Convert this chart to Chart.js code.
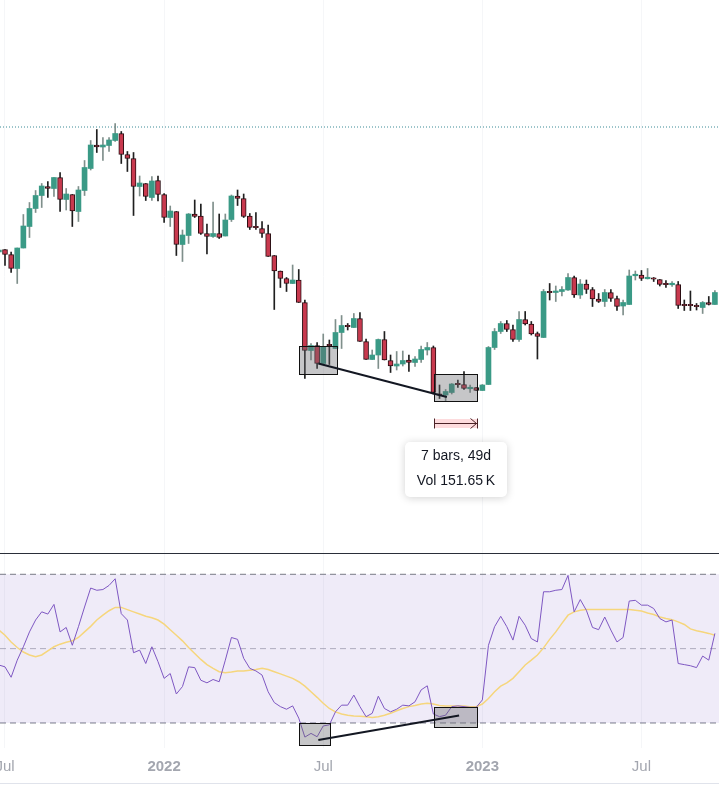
<!DOCTYPE html>
<html>
<head>
<meta charset="utf-8">
<script src="https://cdn.jsdelivr.net/npm/chart.js@4.4.0/dist/chart.umd.min.js"></script>
<style>
  html, body { margin: 0; padding: 0; background: #ffffff; }
  #wrap { position: relative; width: 719px; height: 793px; overflow: hidden; font-family: "Liberation Sans", Arial, sans-serif; }
  #priceBox { position: absolute; left: 0; top: 0; width: 719px; height: 553px; }
  #sep { position: absolute; left: 0; top: 553px; width: 719px; height: 1px; background: #2a2e39; }
  #rsiBox { position: absolute; left: 0; top: 554px; width: 719px; height: 239px; }
  #bottomLine { position: absolute; left: 0; top: 783px; width: 719px; height: 1px; background: #e0e3eb; }
</style>
</head>
<body>
<div id="wrap">
  <div id="priceBox"><canvas id="priceChart"></canvas></div>
  <div id="sep"></div>
  <div id="rsiBox"><canvas id="rsiChart"></canvas></div>
  <div id="bottomLine"></div>
</div>
<script>
/* ---------------------------------------------------------
   Data (weekly bars, first bar index = -1)
   --------------------------------------------------------- */
var firstIndex = -1;

var opens = [60.2, 60.7, 59.7, 56.9, 61.0, 65.3, 68.9, 71.5, 73.3, 72.9, 75.1, 70.7, 71.7, 68.3, 72.5, 76.9, 81.6, 81.2, 81.5, 82.5,
  83.9, 79.7, 78.9, 73.3, 73.9, 71.1, 74.5, 71.7, 67.1, 68.3, 61.7, 63.5, 67.8, 67.4, 63.9, 63.3, 63.9, 63.4, 66.7, 71.4,
  70.9, 67.4, 65.15, 64.9, 63.9, 59.5, 56.4, 54.9, 53.9, 54.6, 50.1, 40.5, 41.5, 37.9, 41.55, 40.9, 44.1, 45.35, 45.1, 46.9,
  42.3, 38.7, 39.6, 42.7, 38.5, 37.4, 37.8, 38.6, 38.1, 38.7, 40.6, 41.1, 31.65, 31.6, 32.1, 33.75, 33.7, 32.85, 33.1, 32.5,
  33.7, 41.1, 44.3, 45.9, 44.7, 42.7, 46.7, 45.8, 43.9, 43.1, 52.15, 52.1, 52.3, 52.6, 55.1, 51.6, 53.8, 52.7, 50.8, 50.3,
  52.1, 50.9, 49.4, 49.7, 55.45, 55.6, 54.85, 54.85, 54.7, 53.75, 53.65, 53.7, 49.55, 49.55, 49.35, 49.1, 50.1, 49.7];

var highs = [60.8, 60.7, 60.2, 61.0, 67.7, 70.1, 72.5, 73.9, 74.3, 75.1, 76.1, 72.9, 71.7, 73.3, 78.5, 82.5, 84.7, 83.1, 83.1, 85.9,
  84.3, 80.3, 80.1, 75.4, 73.9, 75.3, 75.4, 71.9, 69.4, 68.3, 64.6, 67.9, 70.6, 69.8, 65.8, 70.2, 67.8, 67.8, 71.6, 72.6,
  71.8, 67.9, 68.1, 66.3, 65.6, 59.5, 56.4, 55.1, 57.6, 56.7, 50.6, 41.9, 42.1, 43.8, 42.6, 46.7, 47.5, 45.9, 47.9, 48.1,
  42.8, 40.6, 42.8, 44.3, 39.6, 40.3, 40.4, 39.6, 39.3, 41.4, 42.1, 41.4, 33.6, 32.7, 33.9, 34.6, 36.3, 33.6, 33.1, 33.7,
  41.3, 44.9, 46.3, 46.5, 45.6, 48.3, 48.3, 46.3, 44.2, 52.7, 53.9, 53.4, 53.3, 55.9, 55.4, 54.7, 54.6, 53.1, 51.9, 52.7,
  52.7, 51.4, 50.6, 56.6, 56.4, 56.5, 56.9, 55.1, 54.7, 54.5, 54.3, 54.3, 50.6, 52.4, 49.9, 50.3, 51.3, 52.5];

var lows = [60.0, 57.5, 56.1, 53.9, 61.0, 63.1, 68.1, 69.1, 71.1, 71.3, 68.3, 68.6, 65.3, 66.3, 71.5, 76.6, 80.1, 78.5, 80.3, 82.3,
  77.9, 76.3, 67.5, 71.4, 70.5, 70.5, 70.4, 66.1, 65.3, 59.5, 58.3, 61.9, 67.1, 63.7, 59.8, 63.1, 62.9, 63.4, 66.3, 69.5,
  67.1, 64.7, 64.7, 63.1, 59.3, 48.7, 53.1, 52.3, 53.9, 50.1, 34.9, 38.6, 36.9, 37.9, 37.7, 40.9, 40.9, 44.6, 45.1, 42.3,
  38.7, 38.7, 36.9, 38.6, 36.1, 36.6, 37.4, 36.3, 37.3, 38.1, 39.6, 31.8, 30.9, 30.3, 31.8, 33.1, 32.7, 32.1, 32.5, 32.5,
  33.7, 40.7, 43.9, 44.3, 42.3, 42.3, 45.6, 43.6, 38.8, 43.1, 50.6, 50.3, 51.4, 52.5, 51.1, 50.9, 51.9, 49.3, 50.1, 49.3,
  50.3, 48.5, 47.6, 49.7, 54.6, 54.5, 54.8, 54.3, 53.4, 53.1, 53.3, 48.9, 48.5, 48.5, 48.6, 47.9, 49.6, 49.7];

var closes = [60.6, 59.7, 56.9, 61.0, 65.4, 68.9, 71.5, 73.4, 72.9, 75.1, 70.7, 71.8, 68.4, 72.6, 77.1, 81.6, 81.2, 81.6, 82.6, 83.9,
  79.7, 78.9, 73.3, 74.0, 71.3, 74.4, 71.7, 67.1, 68.4, 61.7, 63.6, 67.8, 67.3, 63.9, 63.3, 63.9, 63.1, 66.6, 71.4, 70.9,
  67.3, 65.1, 65.05, 63.9, 59.3, 56.4, 54.9, 53.9, 54.6, 50.1, 40.5, 41.5, 37.9, 41.3, 41.45, 44.1, 45.5, 45.25, 46.9, 42.3,
  38.7, 39.6, 42.7, 38.6, 37.4, 37.8, 38.5, 38.1, 38.8, 40.7, 41.1, 32.1, 31.55, 32.3, 33.8, 33.65, 32.9, 32.95, 32.5, 33.6,
  41.1, 44.3, 45.9, 44.7, 42.7, 46.7, 45.8, 43.8, 43.3, 52.3, 52.05, 52.4, 52.7, 55.1, 51.6, 53.8, 52.7, 50.8, 50.3, 52.1,
  50.9, 49.3, 50.1, 55.4, 55.55, 54.9, 54.95, 54.75, 53.7, 53.65, 53.75, 49.5, 49.45, 49.45, 49.25, 50.1, 49.7, 52.1];

var rsiValues = [45.6, 45.1, 42.3, 46.9, 50.5, 54.5, 57.7, 59.9, 59.3, 61.9, 54.5, 55.7, 50.9, 55.9, 61.2, 66.3, 65.7, 65.9, 67.0, 68.8,
  59.4, 57.7, 48.9, 49.6, 46.0, 50.5, 46.5, 42.0, 43.3, 37.8, 39.8, 45.1, 44.9, 41.5, 40.8, 41.7, 41.1, 46.9, 53.0, 52.5,
  47.4, 44.7, 44.0, 42.9, 38.4, 35.5, 34.4, 33.7, 34.6, 31.3, 26.2, 27.2, 26.3, 29.2, 29.5, 33.0, 34.8, 34.8, 37.5, 34.4,
  31.7, 32.6, 37.2, 33.9, 33.0, 33.7, 34.8, 34.6, 35.7, 38.9, 40.0, 32.4, 31.7, 32.1, 34.4, 34.6, 34.4, 34.2, 34.2, 36.2,
  50.9, 55.9, 58.7, 55.9, 52.3, 58.7, 56.3, 52.7, 51.8, 65.3, 65.3, 65.7, 65.9, 69.7, 59.9, 63.2, 60.3, 55.7, 55.1, 58.5,
  55.0, 51.8, 53.0, 62.8, 63.0, 61.7, 61.7, 60.8, 58.1, 57.2, 57.7, 46.0, 45.7, 45.4, 44.9, 48.0, 46.9, 54.1];

var rsiMaValues = [55.0, 53.6, 51.8, 50.3, 49.1, 48.3, 47.8, 48.3, 49.4, 50.5, 51.2, 51.7, 52.1, 53.0, 54.5, 56.0, 57.7, 59.0, 60.2, 61.1,
  61.1, 60.5, 59.9, 59.3, 58.7, 58.3, 57.7, 56.6, 55.1, 53.6, 52.1, 50.3, 48.7, 47.1, 45.7, 44.7, 43.8, 43.5, 43.7, 44.0,
  44.0, 44.2, 44.4, 44.7, 44.4, 43.8, 43.2, 42.6, 42.0, 41.1, 39.9, 38.4, 36.9, 35.3, 33.9, 33.0, 32.4, 32.1, 31.9, 31.8,
  31.7, 31.5, 31.7, 32.1, 32.6, 33.3, 33.9, 34.4, 34.7, 35.1, 35.3, 35.1, 34.7, 34.6, 34.6, 34.6, 34.6, 34.4, 34.4, 35.1,
  36.6, 38.4, 39.9, 40.8, 42.0, 43.8, 45.6, 46.9, 48.3, 50.2, 52.5, 54.5, 56.8, 59.0, 59.9, 60.3, 60.5, 60.5, 60.5, 60.5,
  60.5, 60.5, 60.5, 60.5, 60.3, 60.1, 59.6, 59.2, 58.5, 58.1, 57.8, 57.2, 56.5, 55.3, 54.8, 54.5, 54.1, 53.6];

var rsiLevels = [70, 50, 30];
var highLevel = 85.2;

var tickIndex = [0, 26, 52, 78, 104];
var tickLabels = ['Jul', '2022', 'Jul', '2023', 'Jul'];

var rangeText = ['7 bars, 49d', 'Vol 151.65\u202FK'];

/* ---------------------------------------------------------
   View window / colours
   --------------------------------------------------------- */
var X_MIN = -0.817, X_MAX = 116.67;
var UP_BODY = '#3a9a86', UP_WICK = '#7f8f8b';
var DOWN_BODY = '#c8394e', DOWN_BORDER = '#2a0d12', DOWN_WICK = '#1f1f1f';

function xOf(k) { return firstIndex + k; }
function isUp(k) { return closes[k] >= opens[k]; }

function timeScale(showLabels) {
  return {
    type: 'linear',
    min: X_MIN,
    max: X_MAX,
    offset: false,
    afterBuildTicks: function (s) {
      s.ticks = tickIndex.map(function (v) { return { value: v }; });
    },
    afterFit: function (s) {
      s.paddingLeft = 0;
      s.paddingRight = 0;
      s.height = showLabels ? 45 : 0;
    },
    grid: { color: '#f5f6f8', drawTicks: false, offset: false },
    border: { display: false },
    ticks: {
      display: showLabels,
      autoSkip: false,
      maxRotation: 0,
      padding: 10,
      color: '#a3a6af',
      font: function (c) {
        var bold = /^\d{4}$/.test(tickLabels[c.index] || '');
        return { family: '"Liberation Sans", Arial, sans-serif', size: 15, weight: bold ? 'bold' : 'normal' };
      },
      callback: function (v, i) { return tickLabels[i]; }
    }
  };
}

/* ---------------------------------------------------------
   Drawings (boxes, trend lines, date range) in data units
   --------------------------------------------------------- */
var drawingsPlugin = {
  id: 'drawings',
  afterDatasetsDraw: function (chart, args, opts) {
    var ctx = chart.ctx;
    var xs = chart.scales.x, ys = chart.scales.y;
    function px(v) { return xs.getPixelForValue(v); }
    function py(v) { return ys.getPixelForValue(v); }
    ctx.save();

    (opts.rects || []).forEach(function (r) {
      var x0 = Math.round(px(r.x0)) + 0.5, x1 = Math.round(px(r.x1)) + 0.5;
      var y0 = Math.round(py(r.y1)) + 0.5, y1 = Math.round(py(r.y0)) + 0.5;
      ctx.fillStyle = 'rgba(105,105,110,0.38)';
      ctx.fillRect(x0, y0, x1 - x0, y1 - y0);
      ctx.strokeStyle = '#111111';
      ctx.lineWidth = 1;
      ctx.strokeRect(x0, y0, x1 - x0, y1 - y0);
    });

    (opts.lines || []).forEach(function (l) {
      ctx.beginPath();
      ctx.moveTo(px(l.x0), py(l.y0));
      ctx.lineTo(px(l.x1), py(l.y1));
      ctx.strokeStyle = '#131722';
      ctx.lineWidth = 2;
      ctx.stroke();
    });

    if (opts.range) {
      var r = opts.range;
      var a = Math.round(px(r.x0)) + 0.5, b = Math.round(px(r.x1)) + 0.5;
      var y = Math.round(py(r.y)) + 0.5;
      ctx.fillStyle = 'rgba(242,54,69,0.18)';
      ctx.fillRect(a, y - 4.5, b - a, 9);
      ctx.strokeStyle = '#4a2226';
      ctx.lineWidth = 1;
      ctx.beginPath();
      ctx.moveTo(a, y - 5); ctx.lineTo(a, y + 5);
      ctx.moveTo(a, y); ctx.lineTo(b, y);
      ctx.moveTo(b, y - 5); ctx.lineTo(b, y + 5);
      ctx.moveTo(b - 7, y - 5); ctx.lineTo(b - 1, y); ctx.lineTo(b - 7, y + 5);
      ctx.stroke();

      var cx = (a + b) / 2, w = 102, h = 55, top = y + 18.5, left = cx - w / 2, rad = 5;
      ctx.save();
      ctx.shadowColor = 'rgba(0,0,0,0.18)';
      ctx.shadowBlur = 8;
      ctx.shadowOffsetY = 1;
      ctx.fillStyle = '#ffffff';
      ctx.beginPath();
      ctx.roundRect(left, top, w, h, rad);
      ctx.fill();
      ctx.restore();
      ctx.fillStyle = '#131722';
      ctx.font = '14px "Liberation Sans", Arial, sans-serif';
      ctx.textAlign = 'center';
      ctx.textBaseline = 'middle';
      ctx.fillText(r.text[0], cx, top + 14.5);
      ctx.fillText(r.text[1], cx, top + 39.5);
    }
    ctx.restore();
  }
};

/* ---------------------------------------------------------
   Price chart (candles as floating bars)
   --------------------------------------------------------- */
function initPriceChart() {
  var bodies = [], wicks = [], bodyFill = [], bodyBorder = [], bodyBorderW = [], wickColor = [];
  for (var k = 0; k < opens.length; k++) {
    var up = isUp(k);
    bodies.push({ x: xOf(k), y: [opens[k], closes[k]] });
    wicks.push({ x: xOf(k), y: [lows[k], highs[k]] });
    bodyFill.push(up ? UP_BODY : DOWN_BODY);
    bodyBorder.push(up ? UP_BODY : DOWN_BORDER);
    bodyBorderW.push(up ? 0 : 1);
    wickColor.push(up ? UP_WICK : DOWN_WICK);
  }

  new Chart(document.getElementById('priceChart'), {
    type: 'bar',
    data: {
      datasets: [{
        label: 'Body',
        data: bodies,
        backgroundColor: bodyFill,
        borderColor: bodyBorder,
        borderWidth: bodyBorderW,
        borderSkipped: false,
        barThickness: 5,
        minBarLength: 1.5,
        grouped: false,
        order: 0
      }, {
        label: 'Wick',
        data: wicks,
        backgroundColor: wickColor,
        borderWidth: 0,
        barThickness: 1,
        minBarLength: 1,
        grouped: false,
        order: 1
      }, {
        type: 'line',
        label: 'High',
        data: [{ x: X_MIN, y: highLevel }, { x: X_MAX, y: highLevel }],
        borderColor: '#3b8a96',
        borderWidth: 1,
        borderDash: [1, 2],
        pointRadius: 0,
        order: 2
      }]
    },
    options: {
      responsive: true,
      maintainAspectRatio: false,
      animation: false,
      events: [],
      layout: { padding: 0 },
      plugins: {
        legend: { display: false },
        tooltip: { enabled: false },
        drawings: {
          rects: [
            { x0: 48.1, x1: 54.2, y0: 35.9, y1: 41.5 },
            { x0: 70.1, x1: 77.2, y0: 30.4, y1: 35.9 }
          ],
          lines: [{ x0: 51.2, y0: 37.9, x1: 72.2, y1: 31.2 }],
          range: { x0: 70.1, x1: 77.2, y: 26.0, text: rangeText }
        }
      },
      scales: {
        x: timeScale(false),
        y: { display: false, min: 0, max: 110.6 }
      }
    },
    plugins: [drawingsPlugin]
  });
}

/* ---------------------------------------------------------
   RSI panel
   --------------------------------------------------------- */
function initRsiChart() {
  var rsiPts = rsiValues.map(function (v, k) { return { x: xOf(k), y: v }; });
  var maPts = rsiMaValues.map(function (v, k) { return { x: xOf(k), y: v }; });
  function level(v) { return [{ x: X_MIN, y: v }, { x: X_MAX, y: v }]; }

  new Chart(document.getElementById('rsiChart'), {
    type: 'line',
    data: {
      datasets: [{
        label: 'RSI',
        data: rsiPts,
        borderColor: '#7e57c2',
        borderWidth: 1,
        pointRadius: 0,
        tension: 0,
        order: 0
      }, {
        label: 'RSI MA',
        data: maPts,
        borderColor: '#f6d67c',
        borderWidth: 1.5,
        pointRadius: 0,
        tension: 0,
        order: 1
      }, {
        label: 'Upper',
        data: level(rsiLevels[0]),
        borderColor: '#787b86',
        borderWidth: 1,
        borderDash: [6, 4],
        pointRadius: 0,
        fill: '+2',
        backgroundColor: 'rgba(126,87,194,0.12)',
        order: 3
      }, {
        label: 'Middle',
        data: level(rsiLevels[1]),
        borderColor: 'rgba(120,123,134,0.55)',
        borderWidth: 1,
        borderDash: [6, 4],
        pointRadius: 0,
        order: 3
      }, {
        label: 'Lower',
        data: level(rsiLevels[2]),
        borderColor: '#787b86',
        borderWidth: 1,
        borderDash: [6, 4],
        pointRadius: 0,
        order: 3
      }]
    },
    options: {
      responsive: true,
      maintainAspectRatio: false,
      animation: false,
      events: [],
      layout: { padding: 0 },
      plugins: {
        legend: { display: false },
        tooltip: { enabled: false },
        drawings: {
          rects: [
            { x0: 48.1, x1: 53.1, y0: 24.1, y1: 30.1 },
            { x0: 70.1, x1: 77.2, y0: 28.85, y1: 34.4 }
          ],
          lines: [{ x0: 51.2, y0: 25.4, x1: 74.2, y1: 32.0 }]
        }
      },
      scales: {
        x: timeScale(true),
        y: { display: false, min: 23.27, max: 75.46 }
      }
    },
    plugins: [drawingsPlugin]
  });
}

initPriceChart();
initRsiChart();
</script>
</body>
</html>
